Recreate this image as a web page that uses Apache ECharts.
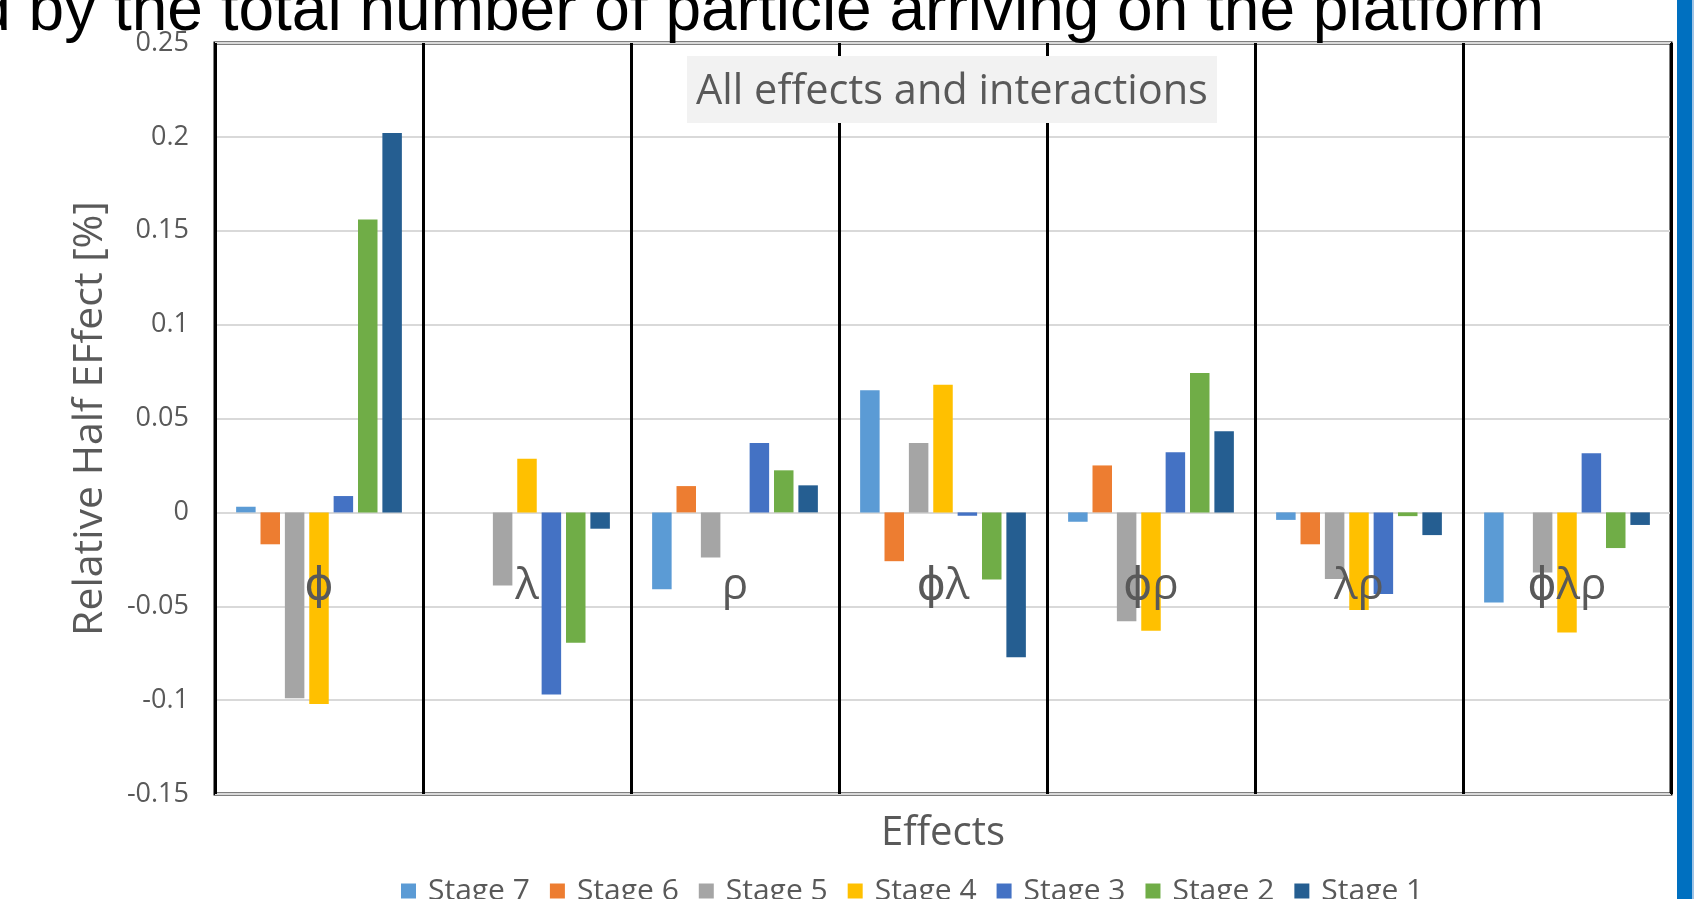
<!DOCTYPE html>
<html>
<head>
<meta charset="utf-8">
<script src="https://cdn.jsdelivr.net/npm/echarts@6/dist/echarts.min.js"></script>
<style>
html,body{margin:0;padding:0;background:#fff;}
#chart{width:1704px;height:899px;}
</style>
</head>
<body>
<div id="chart"></div>
<script>
const categories = ['ϕ', 'λ', 'ρ', 'ϕλ', 'ϕρ', 'λρ', 'ϕλρ'];
const stageNames = ['Stage 7', 'Stage 6', 'Stage 5', 'Stage 4', 'Stage 3', 'Stage 2', 'Stage 1'];
const stage7 = [0.003, 0, -0.041, 0.065, -0.005, -0.004, -0.048];
const stage6 = [-0.017, 0, 0.014, -0.026, 0.025, -0.017, 0];
const stage5 = [-0.099, -0.039, -0.024, 0.037, -0.058, -0.0355, -0.032];
const stage4 = [-0.102, 0.0285, 0, 0.068, -0.063, -0.052, -0.064];
const stage3 = [0.0087, -0.097, 0.037, -0.0018, 0.032, -0.0435, 0.0315];
const stage2 = [0.156, -0.0694, 0.0224, -0.0357, 0.0742, -0.002, -0.019];
const stage1 = [0.202, -0.0087, 0.0144, -0.0771, 0.0432, -0.0121, -0.0067];
const yTickLabels = ['-0.15', '-0.1', '-0.05', '0', '0.05', '0.1', '0.15', '0.2', '0.25'];
const colors = ['#5B9BD5', '#ED7D31', '#A5A5A5', '#FFC000', '#4472C4', '#70AD47', '#255E91'];
const seriesValues = [stage7, stage6, stage5, stage4, stage3, stage2, stage1];

const chart = echarts.init(document.getElementById('chart'), null, {renderer: 'canvas'});
const textFont = '"Open Sans", "DejaVu Sans", sans-serif';

const option = {
  animation: false,
  backgroundColor: '#ffffff',
  color: colors,
  grid: {
    left: 215, top: 43, right: 33, bottom: 105,
    show: true, borderColor: '#000', borderWidth: 3, backgroundColor: 'transparent'
  },
  legend: {
    data: stageNames,
    left: 396, top: 871,
    itemWidth: 15, itemHeight: 15, itemGap: 20,
    icon: 'rect',
    textStyle: {fontFamily: textFont, fontSize: 30, color: '#595959', padding: [0, 0, 0, 7]}
  },
  xAxis: {
    type: 'category',
    data: categories,
    position: 'bottom',
    z: 5,
    axisLine: {show: false, onZero: false},
    axisTick: {show: false},
    axisLabel: {margin: -230, fontFamily: textFont, fontSize: 44, color: '#595959', interval: 0},
    splitLine: {show: true, interval: 0, lineStyle: {color: '#000', width: 3}}
  },
  yAxis: {
    type: 'value',
    min: -0.15, max: 0.25, interval: 0.05,
    name: 'Relative Half EFfect [%]',
    nameLocation: 'middle',
    nameGap: 104,
    nameTextStyle: {fontFamily: textFont, fontSize: 41, color: '#595959'},
    axisLine: {show: false},
    axisTick: {show: false},
    axisLabel: {
      margin: 26, fontFamily: textFont, fontSize: 27, color: '#595959',
      formatter: function (v, idx) { return yTickLabels[idx]; }
    },
    splitLine: {show: true, lineStyle: {color: '#d9d9d9', width: 2}}
  },
  series: seriesValues.map(function (vals, i) {
    return {
      name: stageNames[i],
      type: 'bar',
      data: vals,
      barWidth: 19.5,
      barGap: '25%',
      z: 2,
      itemStyle: {color: colors[i]}
    };
  }),
  graphic: [
    {
      type: 'text', x: 1544, y: 12, z: 10,
      style: {
        text: 'd by the total number of particle arriving on the platform',
        fill: '#000', font: '64px "Liberation Sans", Arial, sans-serif',
        align: 'right', verticalAlign: 'middle'
      }
    },
    {
      type: 'rect', x: 687, y: 56, z: 10,
      shape: {width: 530, height: 67},
      style: {fill: '#f2f2f2'}
    },
    {
      type: 'text', x: 952, y: 92, z: 11,
      style: {
        text: 'All effects and interactions', fill: '#595959',
        font: '41.5px "Open Sans", sans-serif', align: 'center', verticalAlign: 'middle'
      }
    },
    {
      type: 'text', x: 943, y: 834, z: 10,
      style: {
        text: 'Effects', fill: '#595959',
        font: '40px "Open Sans", sans-serif', align: 'center', verticalAlign: 'middle'
      }
    },
    {
      type: 'rect', x: 1677, y: 0, z: 10,
      shape: {width: 15, height: 899},
      style: {fill: '#0070C0'}
    },
    {
      type: 'rect', x: 1692, y: 0, z: 10,
      shape: {width: 2, height: 899},
      style: {fill: '#9DC3E6'}
    }
  ]
};
chart.setOption(option);
</script>
</body>
</html>
